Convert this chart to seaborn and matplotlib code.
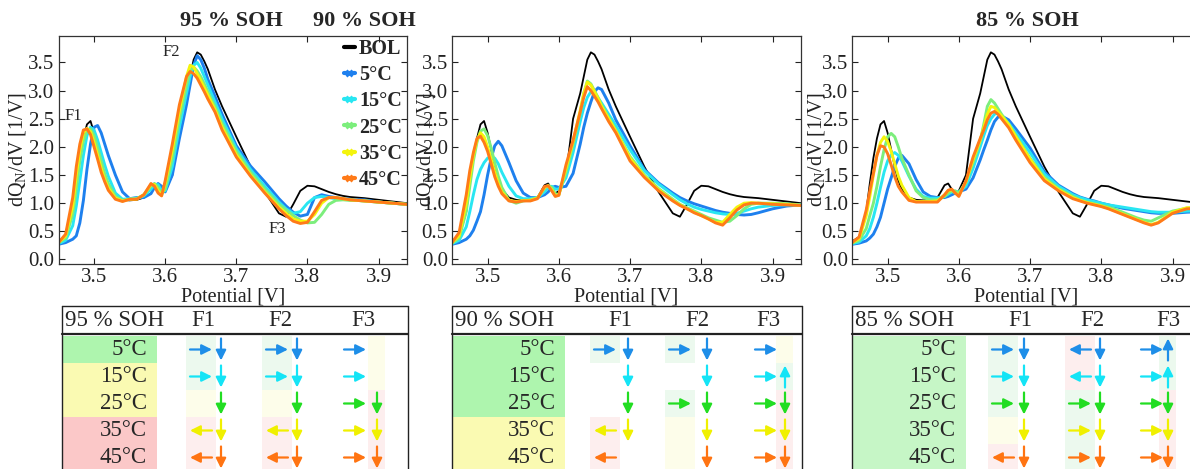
import numpy as np
import pandas as pd
import matplotlib
matplotlib.use("Agg")
import matplotlib.pyplot as plt
from matplotlib.lines import Line2D
from matplotlib.patches import Rectangle
from matplotlib.ticker import FormatStrFormatter
import seaborn as sns

# ---------------------------------------------------------------- data
potential = [3.45, 3.46, 3.47, 3.475, 3.48, 3.485, 3.49, 3.495, 3.50, 3.505,
             3.51, 3.515, 3.52, 3.53, 3.54, 3.55, 3.56, 3.57, 3.58, 3.585,
             3.59, 3.595, 3.60, 3.61, 3.62, 3.63, 3.635, 3.64, 3.645, 3.65,
             3.655, 3.66, 3.67, 3.68, 3.70, 3.72, 3.74, 3.76, 3.77, 3.78,
             3.79, 3.80, 3.81, 3.82, 3.83, 3.84, 3.85, 3.86, 3.87, 3.88,
             3.90, 3.92, 3.94]

bol = [0.32, 0.40, 0.85, 1.35, 1.80, 2.15, 2.40, 2.46, 2.25, 1.95,
       1.65, 1.40, 1.25, 1.10, 1.06, 1.05, 1.06, 1.10, 1.32, 1.35,
       1.25, 1.17, 1.22, 1.50, 2.50, 2.95, 3.25, 3.55, 3.68, 3.64,
       3.52, 3.38, 3.02, 2.72, 2.18, 1.65, 1.20, 0.82, 0.76, 0.98,
       1.22, 1.31, 1.30, 1.25, 1.20, 1.16, 1.13, 1.11, 1.10, 1.09,
       1.06, 1.03, 1.00]

soh95_5 = [0.27, 0.30, 0.36, 0.42, 0.65, 1.05, 1.60, 2.05, 2.35, 2.38,
           2.25, 2.05, 1.85, 1.50, 1.20, 1.08, 1.10, 1.10, 1.17, 1.28,
           1.35, 1.30, 1.20, 1.50, 2.15, 2.75, 3.10, 3.45, 3.62, 3.55,
           3.40, 3.20, 2.90, 2.58, 2.02, 1.66, 1.38, 1.08, 0.95, 0.84,
           0.77, 0.80, 1.10, 1.15, 1.12, 1.10, 1.08, 1.07, 1.06, 1.06,
           1.02, 1.00, 0.98]
soh95_15 = [0.28, 0.34, 0.60, 0.95, 1.40, 1.85, 2.20, 2.35, 2.30, 2.12,
            1.90, 1.68, 1.48, 1.18, 1.07, 1.08, 1.09, 1.13, 1.25, 1.33,
            1.33, 1.22, 1.22, 1.65, 2.35, 2.95, 3.25, 3.45, 3.50, 3.40,
            3.25, 3.10, 2.80, 2.50, 1.97, 1.60, 1.30, 1.02, 0.90, 0.82,
            0.85, 1.00, 1.10, 1.12, 1.10, 1.08, 1.07, 1.06, 1.05, 1.04,
            1.02, 1.00, 0.98]
soh95_25 = [0.30, 0.38, 0.80, 1.25, 1.75, 2.10, 2.30, 2.32, 2.20, 1.98,
            1.75, 1.52, 1.35, 1.12, 1.05, 1.07, 1.08, 1.15, 1.30, 1.35,
            1.28, 1.17, 1.25, 1.80, 2.50, 3.10, 3.35, 3.42, 3.35, 3.25,
            3.12, 2.98, 2.72, 2.42, 1.92, 1.55, 1.25, 0.98, 0.88, 0.78,
            0.70, 0.65, 0.66, 0.80, 0.98, 1.05, 1.06, 1.05, 1.05, 1.04,
            1.02, 1.00, 0.98]
soh95_35 = [0.30, 0.42, 0.95, 1.50, 1.95, 2.25, 2.33, 2.27, 2.08, 1.85,
            1.62, 1.42, 1.27, 1.09, 1.04, 1.07, 1.07, 1.15, 1.33, 1.33,
            1.22, 1.14, 1.35, 1.95, 2.65, 3.25, 3.45, 3.42, 3.30, 3.18,
            3.05, 2.92, 2.66, 2.35, 1.86, 1.50, 1.20, 0.93, 0.82, 0.72,
            0.68, 0.68, 0.80, 1.00, 1.10, 1.10, 1.08, 1.06, 1.05, 1.04,
            1.02, 1.00, 0.98]
soh95_45 = [0.30, 0.45, 1.10, 1.65, 2.05, 2.30, 2.32, 2.22, 2.00, 1.78,
            1.55, 1.38, 1.23, 1.07, 1.03, 1.07, 1.07, 1.15, 1.35, 1.30,
            1.18, 1.13, 1.40, 2.05, 2.75, 3.25, 3.34, 3.30, 3.22, 3.10,
            2.98, 2.85, 2.62, 2.30, 1.82, 1.48, 1.18, 0.90, 0.78, 0.68,
            0.64, 0.66, 0.85, 1.05, 1.10, 1.10, 1.08, 1.06, 1.05, 1.04,
            1.02, 1.00, 0.98]

soh90_5 = [0.27, 0.30, 0.36, 0.42, 0.52, 0.68, 0.85, 1.15, 1.50, 1.80,
           2.02, 2.10, 2.02, 1.72, 1.40, 1.18, 1.10, 1.10, 1.15, 1.20,
           1.28, 1.30, 1.28, 1.30, 1.53, 2.05, 2.35, 2.60, 2.80, 2.98,
           3.05, 3.02, 2.78, 2.48, 2.02, 1.60, 1.36, 1.18, 1.10, 1.04,
           0.99, 0.95, 0.91, 0.87, 0.84, 0.82, 0.80, 0.79, 0.80, 0.83,
           0.90, 0.95, 0.97]
soh90_15 = [0.28, 0.34, 0.58, 0.85, 1.15, 1.42, 1.60, 1.72, 1.80, 1.83,
            1.80, 1.70, 1.55, 1.30, 1.13, 1.08, 1.08, 1.10, 1.20, 1.28,
            1.30, 1.25, 1.25, 1.45, 1.90, 2.45, 2.70, 2.88, 2.98, 2.95,
            2.87, 2.78, 2.58, 2.38, 1.95, 1.58, 1.34, 1.15, 1.06, 0.99,
            0.93, 0.89, 0.86, 0.83, 0.81, 0.80, 0.82, 0.86, 0.90, 0.93,
            0.96, 0.97, 0.97]
soh90_25 = [0.29, 0.38, 0.85, 1.30, 1.75, 2.08, 2.28, 2.32, 2.20, 1.98,
            1.72, 1.48, 1.28, 1.05, 1.00, 1.04, 1.06, 1.10, 1.26, 1.32,
            1.28, 1.17, 1.15, 1.55, 2.05, 2.60, 2.95, 3.17, 3.12, 3.00,
            2.88, 2.75, 2.52, 2.30, 1.83, 1.50, 1.26, 1.07, 0.98, 0.92,
            0.86, 0.80, 0.74, 0.70, 0.66, 0.68, 0.78, 0.90, 0.98, 1.00,
            1.00, 0.99, 0.97]
soh90_35 = [0.30, 0.42, 1.00, 1.45, 1.85, 2.12, 2.25, 2.18, 2.00, 1.78,
            1.55, 1.35, 1.20, 1.05, 1.03, 1.05, 1.05, 1.09, 1.28, 1.31,
            1.24, 1.13, 1.15, 1.62, 2.10, 2.65, 2.95, 3.15, 3.10, 2.98,
            2.86, 2.72, 2.50, 2.28, 1.80, 1.48, 1.24, 1.05, 0.97, 0.90,
            0.84, 0.78, 0.72, 0.66, 0.66, 0.80, 0.93, 1.00, 1.01, 1.00,
            0.99, 0.98, 0.96]
soh90_45 = [0.30, 0.48, 1.15, 1.58, 1.90, 2.15, 2.19, 2.08, 1.92, 1.70,
            1.47, 1.30, 1.17, 1.04, 1.02, 1.04, 1.04, 1.08, 1.30, 1.31,
            1.22, 1.12, 1.14, 1.68, 2.12, 2.62, 2.88, 3.07, 3.00, 2.90,
            2.80, 2.68, 2.45, 2.25, 1.75, 1.46, 1.22, 1.04, 0.96, 0.90,
            0.83, 0.78, 0.72, 0.65, 0.61, 0.74, 0.88, 0.97, 1.00, 1.00,
            0.98, 0.97, 0.96]

soh85_5 = [0.27, 0.29, 0.33, 0.38, 0.45, 0.58, 0.75, 1.00, 1.25, 1.45,
           1.65, 1.80, 1.85, 1.70, 1.42, 1.20, 1.12, 1.10, 1.10, 1.12,
           1.15, 1.18, 1.20, 1.25, 1.45, 1.77, 1.95, 2.12, 2.30, 2.45,
           2.53, 2.55, 2.48, 2.32, 1.98, 1.56, 1.32, 1.17, 1.11, 1.07,
           1.04, 1.00, 0.97, 0.94, 0.91, 0.89, 0.87, 0.85, 0.83, 0.82,
           0.82, 0.84, 0.85]
soh85_15 = [0.28, 0.31, 0.42, 0.55, 0.75, 1.00, 1.28, 1.55, 1.75, 1.86,
            1.90, 1.85, 1.75, 1.48, 1.25, 1.12, 1.09, 1.09, 1.12, 1.16,
            1.20, 1.21, 1.20, 1.30, 1.62, 2.00, 2.20, 2.38, 2.50, 2.58,
            2.60, 2.56, 2.42, 2.25, 1.90, 1.52, 1.30, 1.15, 1.10, 1.06,
            1.03, 1.00, 0.97, 0.95, 0.93, 0.91, 0.89, 0.87, 0.85, 0.84,
            0.84, 0.86, 0.87]
soh85_25 = [0.29, 0.34, 0.55, 0.78, 1.00, 1.30, 1.65, 1.95, 2.18, 2.24,
            2.18, 2.00, 1.80, 1.50, 1.22, 1.10, 1.06, 1.06, 1.12, 1.18,
            1.22, 1.22, 1.18, 1.38, 1.72, 2.10, 2.40, 2.72, 2.84, 2.78,
            2.68, 2.58, 2.40, 2.20, 1.80, 1.46, 1.26, 1.12, 1.06, 1.02,
            0.99, 0.96, 0.93, 0.89, 0.84, 0.79, 0.74, 0.70, 0.68, 0.74,
            0.86, 0.91, 0.92]
soh85_35 = [0.30, 0.37, 0.78, 1.12, 1.50, 1.85, 2.08, 2.18, 2.10, 1.92,
            1.70, 1.48, 1.32, 1.10, 1.03, 1.03, 1.03, 1.04, 1.15, 1.22,
            1.24, 1.18, 1.14, 1.38, 1.78, 2.12, 2.35, 2.58, 2.72, 2.70,
            2.62, 2.55, 2.40, 2.18, 1.78, 1.43, 1.24, 1.10, 1.05, 1.01,
            0.98, 0.95, 0.91, 0.86, 0.81, 0.76, 0.71, 0.66, 0.62, 0.66,
            0.84, 0.92, 0.92]
soh85_45 = [0.30, 0.40, 0.88, 1.22, 1.53, 1.85, 2.02, 2.00, 1.88, 1.68,
            1.47, 1.30, 1.20, 1.05, 1.02, 1.02, 1.02, 1.02, 1.15, 1.23,
            1.25, 1.18, 1.12, 1.40, 1.82, 2.15, 2.30, 2.48, 2.60, 2.63,
            2.58, 2.50, 2.34, 2.12, 1.72, 1.40, 1.22, 1.08, 1.04, 1.00,
            0.97, 0.94, 0.90, 0.85, 0.80, 0.75, 0.70, 0.65, 0.61, 0.65,
            0.82, 0.90, 0.91]

temperatures = ["5°C", "15°C", "25°C", "35°C", "45°C"]
soh_titles = ["95 % SOH", "90 % SOH", "85 % SOH"]
features = ["F1", "F2", "F3"]

# peak-shift table: horizontal arrow ('>' right, '<' left, '.' none)
# followed by vertical arrow ('v' down, '^' up, '.' none)
shifts_95 = {"F1": [">v", ">v", ".v", "<v", "<v"],
             "F2": [">v", ">v", ".v", "<v", "<v"],
             "F3": [">.", ">.", ">v", ">v", ">v"]}
shifts_90 = {"F1": [">v", ".v", ".v", "<v", "<."],
             "F2": [">v", ".v", ">v", ".v", ".v"],
             "F3": [">.", ">^", ">v", ">v", ">v"]}
shifts_85 = {"F1": [">v", ">v", ">v", ".v", "<v"],
             "F2": ["<v", "<v", ">v", ">v", ">v"],
             "F3": [">^", ">^", ">v", ">v", ">v"]}
# cell shading: g = favourable, y = neutral, r = unfavourable
shading_95 = {"F1": "ggyrr", "F2": "ggyrr", "F3": "yyrrr"}
shading_90 = {"F1": "g..rr", "F2": "g.gyy", "F3": "ygrrr"}
shading_85 = {"F1": "gggyr", "F2": "rrggg", "F3": "ggrrr"}
rating_95 = "gyyrr"
rating_90 = "gggyy"
rating_85 = "GGGGG"

# ---------------------------------------------------------------- style
sns.set_theme(style="ticks")
plt.rcParams["font.family"] = ["Liberation Serif", "DejaVu Serif"]
plt.rcParams["mathtext.fontset"] = "custom"
plt.rcParams["mathtext.rm"] = "Liberation Serif"
plt.rcParams["mathtext.it"] = "Liberation Serif:italic"

line_colors = ["#1e80ee", "#28e6f2", "#7cee7c", "#f4f40c", "#ff7a18"]
arrow_colors = ["#1e8ee8", "#14e4f6", "#22dd22", "#f0f000", "#ff7412"]
shade_colors = {"g": "#ecf9ee", "y": "#fdfdea", "r": "#fdeeee"}
rating_colors = {"g": "#aef5ae", "y": "#fafab2", "r": "#fbc8c8", "G": "#c6f6c6"}

W, H = 1190, 469
fig = plt.figure(figsize=(W / 100, H / 100), dpi=100)


def fig_box(left, top, width, height):
    return [left / W, 1 - (top + height) / H, width / W, height / H]


panel_series = [
    [soh95_5, soh95_15, soh95_25, soh95_35, soh95_45],
    [soh90_5, soh90_15, soh90_25, soh90_35, soh90_45],
    [soh85_5, soh85_15, soh85_25, soh85_35, soh85_45],
]
panel_left = [58.5, 452, 852]
panel_width = [348.5, 349, 349]
ylabel_x = [-0.088, -0.047, -0.072]
title_x = [231, 364, 1027]

bol_df = pd.DataFrame({"Potential": potential, "dQdV": bol})

axes = []
for k in range(3):
    ax = fig.add_axes(fig_box(panel_left[k], 36, panel_width[k], 228))
    axes.append(ax)
    long = pd.concat(
        [pd.DataFrame({"Potential": potential, "dQdV": s, "Temperature": t})
         for s, t in zip(panel_series[k], temperatures)],
        ignore_index=True)
    sns.lineplot(data=bol_df, x="Potential", y="dQdV", color="black",
                 lw=1.3, estimator=None, sort=False, ax=ax)
    sns.lineplot(data=long, x="Potential", y="dQdV", hue="Temperature",
                 hue_order=temperatures, palette=line_colors, lw=2.1,
                 estimator=None, sort=False, legend=False, ax=ax)
    ax.set_xlim(3.45, 3.94)
    ax.set_ylim(-0.08, 3.97)
    ax.set_xticks([3.5, 3.6, 3.7, 3.8, 3.9])
    ax.set_yticks(np.arange(0, 3.51, 0.5))
    ax.xaxis.set_major_formatter(FormatStrFormatter("%.1f"))
    ax.yaxis.set_major_formatter(FormatStrFormatter("%.1f"))
    ax.tick_params(direction="in", top=True, right=True, length=4,
                   width=0.8, labelsize=15, pad=3, colors="#222222")
    for sp in ax.spines.values():
        sp.set_linewidth(0.9)
        sp.set_color("#333333")
    ax.set_xlabel("Potential [V]", fontsize=14.5, color="#222222")
    ax.set_ylabel(r"dQ$_{\rm N}$/dV [1/V]", fontsize=14.5, color="#222222")
    ax.yaxis.set_label_coords(ylabel_x[k], 0.5)
    ax.xaxis.set_label_coords(0.5, -0.105)
    fig.text(title_x[k] / W, 1 - 21 / H, soh_titles[k], ha="center",
             va="center", fontsize=16, fontweight="bold")

# feature labels and legend in the first panel
ax1 = axes[0]
ax1.text(3.471, 2.55, "F1", fontsize=12, ha="center", va="center")
ax1.text(3.608, 3.69, "F2", fontsize=12, ha="center", va="center")
ax1.text(3.757, 0.54, "F3", fontsize=12, ha="center", va="center")
handles = [Line2D([], [], color="black", lw=3.0)]
handles += [Line2D([], [], color=c, lw=3.0, marker="x", markersize=5,
                   markeredgewidth=2.0) for c in line_colors]
leg = ax1.legend(handles, ["BOL"] + temperatures, loc="upper left",
                 bbox_to_anchor=(0.79, 1.032), frameon=False,
                 handlelength=0.55, handletextpad=0.2, borderpad=0,
                 labelspacing=0.31, prop={"size": 14.5, "weight": "bold"})


# ---------------------------------------------------------------- tables
def draw_table(left, width, name, label_w, ratings, col_x, h_x, v_x,
               shifts, shading):
    top_px = 306
    tax = fig.add_axes(fig_box(left, top_px, width, H - top_px))
    tax.set_xlim(0, width)
    tax.set_ylim(H - top_px, 0)
    tax.axis("off")
    row_h, row0 = 27, 30
    for i, (t, r) in enumerate(zip(temperatures, ratings)):
        top = row0 + row_h * i
        tax.add_patch(Rectangle((1, top), label_w, row_h, color=rating_colors[r],
                                lw=0))
        tax.text(label_w - 9, top + row_h / 2, t, ha="right", va="center",
                 fontsize=16.5)
        for j, f in enumerate(features):
            tint = shading[f][i]
            if tint != ".":
                if j < 2:
                    rect = Rectangle((h_x[j] - 15, top), 30, row_h)
                else:
                    rect = Rectangle((v_x[j] - 9, top), 17, row_h)
                rect.set_color(shade_colors[tint])
                rect.set_linewidth(0)
                tax.add_patch(rect)
            hdir, vdir = shifts[f][i]
            c = arrow_colors[i]
            yc = top + row_h / 2
            props = dict(arrowstyle="-|>,head_length=0.5,head_width=0.25",
                         color=c, lw=1.6, shrinkA=0, shrinkB=0,
                         mutation_scale=12)
            if hdir == ">":
                tax.annotate("", xy=(h_x[j] + 11, yc), xytext=(h_x[j] - 11, yc),
                             arrowprops=props)
            elif hdir == "<":
                tax.annotate("", xy=(h_x[j] - 11, yc), xytext=(h_x[j] + 11, yc),
                             arrowprops=props)
            if vdir == "v":
                tax.annotate("", xy=(v_x[j], yc + 11), xytext=(v_x[j], yc - 11),
                             arrowprops=props)
            elif vdir == "^":
                tax.annotate("", xy=(v_x[j], yc - 11), xytext=(v_x[j], yc + 11),
                             arrowprops=props)
    bottom = H - top_px
    tax.plot([0, width], [0, 0], color="#222222", lw=1.0, clip_on=False)
    tax.plot([0, width], [28, 28], color="#222222", lw=1.6, clip_on=False)
    tax.plot([0, 0], [0, bottom], color="#222222", lw=1.0, clip_on=False)
    tax.plot([width, width], [0, bottom], color="#222222", lw=1.0,
             clip_on=False)
    tax.text(3, 14.5, name, ha="left", va="center", fontsize=16.5)
    for j, f in enumerate(features):
        tax.text(col_x[j], 14.5, f, ha="center", va="center", fontsize=16.5)


draw_table(62, 346, soh_titles[0], 94, rating_95,
           [141, 218, 301], [139, 215, 293], [159, 235, 315],
           shifts_95, shading_95)
draw_table(452, 350, soh_titles[1], 112, rating_90,
           [168, 245, 316], [153, 228, 314], [176, 255, 333],
           shifts_90, shading_90)
draw_table(852, 352, soh_titles[2], 113, rating_85,
           [168, 240, 316], [151, 228, 300], [172, 248, 316],
           shifts_85, shading_85)

fig.savefig("out.png", dpi=100)
